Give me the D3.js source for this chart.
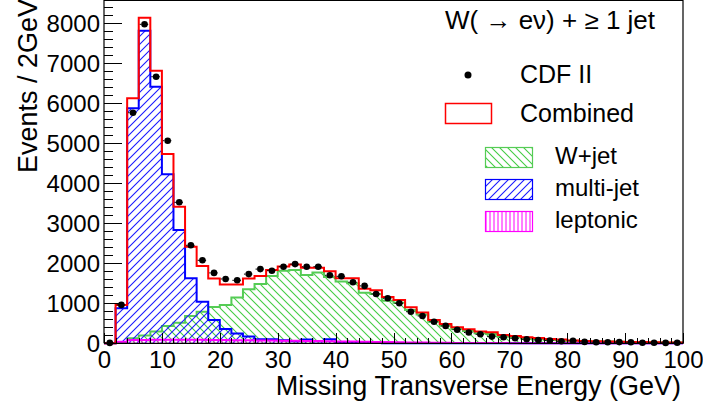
<!DOCTYPE html>
<html lang="en">
<head>
<meta charset="UTF-8">
<title>Missing ET</title>
<script src="https://d3js.org/d3.v7.min.js"></script>
<style>
  body { margin: 0; background: #fff; }
  svg text { font-family: "Liberation Sans", Arial, Helvetica, sans-serif; fill: #000; }
  .axis path { display: none; }
  .axis line { stroke: #000; stroke-width: 1; shape-rendering: crispEdges; }
</style>
</head>
<body>
<script>
// bins: 2 GeV wide, 0..100
const binEdges = d3.range(0, 101, 2);

// CDF II data points
const cdfData = [10, 960, 5765, 7975, 6665, 5065, 3525, 2450, 2075, 1760,
  1608, 1575, 1730, 1855, 1815, 1915, 1980, 1915, 1915, 1700,
  1675, 1525, 1435, 1233, 1125, 1000, 790, 683, 540, 435,
  340, 270, 225, 167, 150, 125, 100, 83, 70, 50,
  62, 35, 28, 28, 30, 28, 15, 15, 10, 12];

// Combined prediction (red outline)
const combined = [0, 960, 6125, 8140, 6815, 4733, 3415, 2415, 1933, 1620,
  1470, 1470, 1620, 1680, 1830, 1920, 1970, 1890, 1890, 1800,
  1625, 1625, 1365, 1325, 1160, 1080, 900, 767, 583, 483,
  400, 350, 292, 275, 208, 183, 150, 130, 110, 95,
  70, 60, 52, 45, 40, 35, 30, 26, 22, 20];

// W+jet (green)
const wjet = [0, 30, 125, 195, 292, 435, 515, 680, 790, 910,
  960, 1145, 1350, 1480, 1683, 1815, 1830, 1708, 1767, 1660,
  1542, 1500, 1265, 1233, 1065, 1015, 833, 720, 540, 440,
  360, 310, 250, 235, 170, 150, 120, 100, 85, 75,
  65, 55, 48, 42, 36, 32, 28, 24, 20, 18];

// multi-jet (blue)
const multijet = [0, 875, 5875, 7815, 6415, 4225, 2833, 1625, 1040, 583,
  358, 245, 167, 100, 100, 75, 50, 95, 50, 100,
  10, 8, 6, 5, 4, 3, 2, 2, 1, 1,
  0, 0, 0, 0, 0, 0, 0, 0, 0, 0,
  0, 0, 0, 0, 0, 0, 0, 0, 0, 0];

// leptonic (magenta)
const leptonic = [0, 40, 80, 85, 88, 90, 90, 88, 86, 84,
  80, 78, 75, 72, 70, 66, 62, 58, 55, 50,
  46, 42, 38, 34, 30, 26, 22, 18, 15, 12,
  10, 8, 7, 6, 5, 4, 4, 3, 3, 3,
  2, 2, 2, 2, 2, 1, 1, 1, 1, 1];

const yMajor = d3.range(0, 8001, 1000);
const xMajor = d3.range(0, 101, 10);

const W = 703, H = 410;
const svg = d3.select("body").append("svg").attr("width", W).attr("height", H);

const x = d3.scaleLinear().domain([0, 100]).range([104, 683]);
const y = d3.scaleLinear().domain([0, 8583]).range([343.3, 0]);

// hatch patterns
const defs = svg.append("defs");
function hatch(id, color, d, size, sw) {
  defs.append("pattern").attr("id", id).attr("patternUnits", "userSpaceOnUse")
    .attr("width", size).attr("height", size)
    .append("path").attr("d", d).attr("stroke", color).attr("stroke-width", sw).attr("fill", "none");
}
hatch("hGreen", "#44cc44", "M0,0L8,8M-1,7L1,9M7,-1L9,1", 8, 1.1);
hatch("hBlue", "#1a1aff", "M0,8L8,0M-1,1L1,-1M7,9L9,7", 8, 1.1);
hatch("hMag", "#ff00ff", "M2,0L2,4", 4, 1);

function stepPath(vals) {
  let p = d3.path();
  p.moveTo(x(0), y(0));
  vals.forEach((v, i) => {
    p.lineTo(x(binEdges[i]), y(v));
    p.lineTo(x(binEdges[i + 1]), y(v));
  });
  p.lineTo(x(100), y(0));
  return p.toString();
}

const plot = svg.append("g");
plot.append("path").attr("d", stepPath(wjet)).attr("fill", "url(#hGreen)")
  .attr("stroke", "#55cc55").attr("stroke-width", 2);
plot.append("path").attr("d", stepPath(multijet)).attr("fill", "url(#hBlue)")
  .attr("stroke", "#0000ff").attr("stroke-width", 2);
plot.append("path").attr("d", stepPath(leptonic)).attr("fill", "url(#hMag)")
  .attr("stroke", "#ff00ff").attr("stroke-width", 2);
plot.append("path").attr("d", stepPath(combined)).attr("fill", "none")
  .attr("stroke", "#ff0000").attr("stroke-width", 2);

// data points with horizontal bin-width bars
const pts = plot.selectAll("g.pt").data(cdfData).enter().append("g").attr("class", "pt");
pts.append("line")
  .attr("x1", (d, i) => x(binEdges[i]) + 1)
  .attr("x2", (d, i) => x(binEdges[i + 1]) - 1)
  .attr("y1", d => y(d)).attr("y2", d => y(d))
  .attr("stroke", "#000").attr("stroke-width", 1).attr("stroke-dasharray", "1.5,2");
pts.append("circle")
  .attr("cx", (d, i) => x((binEdges[i] + binEdges[i + 1]) / 2))
  .attr("cy", d => y(d)).attr("r", 3.3).attr("fill", "#000");

// axes
const yMinor = d3.range(0, 8583, 200).filter(v => v % 1000 !== 0);
svg.append("g").attr("class", "axis").attr("transform", "translate(104,0)")
  .call(d3.axisLeft(y).tickValues(yMinor).tickSize(-9).tickFormat(""));
svg.append("g").attr("class", "axis").attr("transform", "translate(104,0)")
  .call(d3.axisLeft(y).tickValues(yMajor).tickSize(-18).tickPadding(4).tickFormat(d3.format("d")))
  .selectAll("text").style("font-size", "24px").attr("dy", "0.36em");

const xMinor = d3.range(0, 101, 2).filter(v => v % 10 !== 0);
svg.append("g").attr("class", "axis").attr("transform", "translate(0,343.3)")
  .call(d3.axisBottom(x).tickValues(xMinor).tickSize(-5).tickFormat(""));
svg.append("g").attr("class", "axis").attr("transform", "translate(0,343.3)")
  .call(d3.axisBottom(x).tickValues(xMajor).tickSize(-10).tickPadding(8))
  .selectAll("text").style("font-size", "24px");

// frame
svg.append("path")
  .attr("d", `M${x(0)},${y(0)}L${x(0)},0.5L${x(100)},0.5L${x(100)},${y(0)}L${x(0)},${y(0)}`)
  .attr("fill", "none").attr("stroke", "#000").attr("stroke-width", 1.2);

// axis titles
svg.append("text").attr("x", 681).attr("y", 395).attr("text-anchor", "end")
  .style("font-size", "27px").text("Missing Transverse Energy (GeV)");
svg.append("text").attr("transform", "translate(37,-1) rotate(-90)").attr("text-anchor", "end")
  .style("font-size", "27px").text("Events / 2GeV");

// legend
const lg = svg.append("g");
lg.append("text").attr("x", 445).attr("y", 29).style("font-size", "26px").text("W( \u2192 e\u03bd) + \u2265 1 jet");
lg.append("circle").attr("cx", 468).attr("cy", 75).attr("r", 3.5).attr("fill", "#000");
lg.append("text").attr("x", 520).attr("y", 83).style("font-size", "25px").text("CDF II");
lg.append("rect").attr("x", 445.5).attr("y", 103.5).attr("width", 46).attr("height", 20)
  .style("fill", "#fff").style("stroke", "#ff0000").style("stroke-width", 1.5);
lg.append("text").attr("x", 520).attr("y", 122).style("font-size", "25px").text("Combined");

const boxes = [
  { label: "W+jet", fill: "url(#hGreen)", stroke: "#55cc55", y: 147 },
  { label: "multi-jet", fill: "url(#hBlue)", stroke: "#0000ff", y: 179 },
  { label: "leptonic", fill: "url(#hMag)", stroke: "#ff00ff", y: 211 }
];
boxes.forEach(b => {
  lg.append("rect").attr("x", 485.5).attr("y", b.y + 0.5).attr("width", 47).attr("height", 20)
    .style("fill", b.fill).style("stroke", b.stroke).style("stroke-width", 1.2);
  lg.append("text").attr("x", 555).attr("y", b.y + 17).style("font-size", "24px").text(b.label);
});
</script>
</body>
</html>
